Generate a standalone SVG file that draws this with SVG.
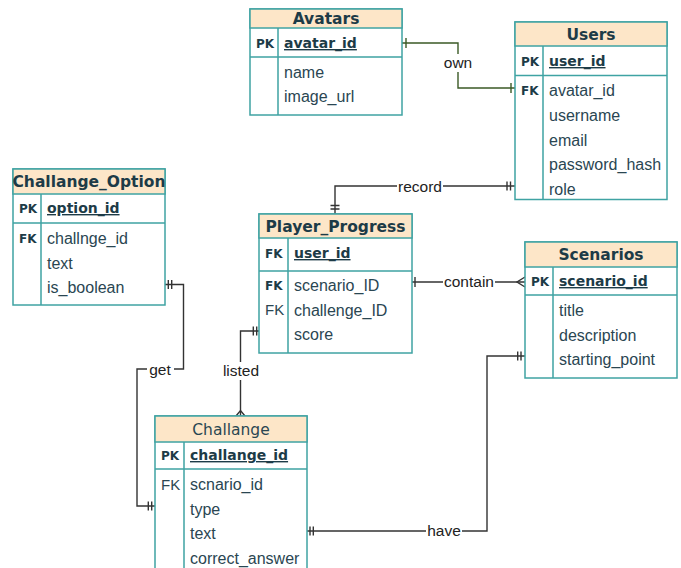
<svg xmlns="http://www.w3.org/2000/svg" width="681" height="568" viewBox="0 0 681 568">
<style>
.box{fill:#ffffff;stroke:#3fa3a3;stroke-width:1.5}
.hdr{fill:#fde6c8;stroke:#3fa3a3;stroke-width:1.5}
.ln{stroke:#3fa3a3;stroke-width:1.5;fill:none}
.title{font-family:"DejaVu Sans",Verdana,sans-serif;font-weight:bold;font-size:15.5px;fill:#1d3b47;text-anchor:middle}
.titlen{font-family:"DejaVu Sans",Verdana,sans-serif;font-size:15.5px;fill:#2a4652;text-anchor:middle}
.key{font-family:"DejaVu Sans",Verdana,sans-serif;font-weight:bold;font-size:12px;fill:#1d3b47}
.keyn{font-family:"Liberation Sans",Arial,sans-serif;font-size:15px;fill:#2a4652}
.pk{font-family:"DejaVu Sans",Verdana,sans-serif;font-weight:bold;font-size:14px;fill:#1d3b47;text-decoration:underline}
.fld{font-family:"Liberation Sans",Arial,sans-serif;font-size:16px;fill:#2a4652}
.con{stroke:#333333;stroke-width:1.4;fill:none}
.own{stroke:#3b5a26;stroke-width:1.4;fill:none}
.lbl{font-family:"Liberation Sans",Arial,sans-serif;font-size:15.5px;fill:#222222;text-anchor:middle}
.bg{fill:#ffffff}
</style>
<g id="connectors">
  <!-- own -->
  <path class="own" d="M402,43 H458 V88 H515"/>
  <path class="own" d="M406,38 V48 M511,83 V93"/>
  <rect class="bg" x="440" y="54" width="36" height="18"/>
  <text class="lbl" x="458" y="68">own</text>
  <!-- record -->
  <path class="con" d="M515,186 H335 V214"/>
  <path class="con" d="M507,181.5 V190.5 M510.5,181.5 V190.5 M330.5,205.5 H339.5 M330.5,209 H339.5"/>
  <rect class="bg" x="397" y="178" width="46" height="18"/>
  <text class="lbl" x="420" y="192">record</text>
  <!-- contain -->
  <path class="con" d="M412,282 H525"/>
  <path class="con" d="M415,277 V287 M525,277 L517,282 L525,287"/>
  <rect class="bg" x="443" y="273" width="52" height="18"/>
  <text class="lbl" x="469" y="287">contain</text>
  <!-- listed -->
  <path class="con" d="M259,331 H240.5 V416"/>
  <path class="con" d="M253.3,326.5 V335.5 M256.7,326.5 V335.5 M236,416 L240.5,410.5 L245,416"/>
  <rect class="bg" x="220" y="362" width="42" height="18"/>
  <text class="lbl" x="241" y="376">listed</text>
  <!-- get -->
  <path class="con" d="M165,284.5 H183.5 V369 H137 V506 H155"/>
  <path class="con" d="M168.3,280 V289 M171.7,280 V289 M148.3,501.5 V510.5 M151.7,501.5 V510.5"/>
  <rect class="bg" x="147" y="361" width="27" height="17"/>
  <text class="lbl" x="160" y="375">get</text>
  <!-- have -->
  <path class="con" d="M307,531 H487 V356 H525"/>
  <path class="con" d="M310,526.5 V535.5 M313.3,526.5 V535.5 M517.7,351.5 V360.5 M521,351.5 V360.5"/>
  <rect class="bg" x="426" y="522" width="36" height="18"/>
  <text class="lbl" x="444" y="536">have</text>
</g>
<g id="avatars">
  <rect class="box" x="250" y="9" width="152" height="106"/>
  <rect class="hdr" x="250" y="9" width="152" height="19"/>
  <path class="ln" d="M250,57 H402 M278,28 V115"/>
  <text class="title" x="326" y="24">Avatars</text>
  <text class="key" x="256" y="48">PK</text>
  <text class="pk" x="284" y="48">avatar_id</text>
  <text class="fld" x="284" y="77.5">name</text>
  <text class="fld" x="284" y="101.5">image_url</text>
</g>
<g id="users">
  <rect class="box" x="515" y="22" width="152" height="177.5"/>
  <rect class="hdr" x="515" y="22" width="152" height="24"/>
  <path class="ln" d="M515,75.5 H667 M543,46 V199.5"/>
  <text class="title" x="591" y="39.5">Users</text>
  <text class="key" x="521" y="66">PK</text>
  <text class="pk" x="549" y="66">user_id</text>
  <text class="key" x="521" y="95">FK</text>
  <text class="fld" x="549" y="96">avatar_id</text>
  <text class="fld" x="549" y="121">username</text>
  <text class="fld" x="549" y="146">email</text>
  <text class="fld" x="549" y="170">password_hash</text>
  <text class="fld" x="549" y="195">role</text>
</g>
<g id="challange_option">
  <rect class="box" x="13" y="169" width="152" height="136"/>
  <rect class="hdr" x="13" y="169" width="152" height="25"/>
  <path class="ln" d="M13,223 H165 M41,194 V305"/>
  <text class="title" x="89" y="187">Challange_Option</text>
  <text class="key" x="19" y="213">PK</text>
  <text class="pk" x="47" y="213">option_id</text>
  <text class="key" x="19" y="243">FK</text>
  <text class="fld" x="47" y="244">challnge_id</text>
  <text class="fld" x="47" y="269">text</text>
  <text class="fld" x="47" y="293">is_boolean</text>
</g>
<g id="player_progress">
  <rect class="box" x="259" y="214" width="153" height="139"/>
  <rect class="hdr" x="259" y="214" width="153" height="24"/>
  <path class="ln" d="M259,271 H412 M288,238 V353"/>
  <text class="title" x="335.5" y="231.5">Player_Progress</text>
  <text class="key" x="265" y="258">FK</text>
  <text class="pk" x="294" y="258">user_id</text>
  <text class="key" x="265" y="290">FK</text>
  <text class="fld" x="294" y="291">scenario_ID</text>
  <text class="keyn" x="265" y="315">FK</text>
  <text class="fld" x="294" y="316">challenge_ID</text>
  <text class="fld" x="294" y="340">score</text>
</g>
<g id="scenarios">
  <rect class="box" x="525" y="242" width="152" height="136"/>
  <rect class="hdr" x="525" y="242" width="152" height="25"/>
  <path class="ln" d="M525,295 H677 M553,267 V378"/>
  <text class="title" x="601" y="260">Scenarios</text>
  <text class="key" x="531" y="286">PK</text>
  <text class="pk" x="559" y="286">scenario_id</text>
  <text class="fld" x="559" y="316">title</text>
  <text class="fld" x="559" y="341">description</text>
  <text class="fld" x="559" y="365">starting_point</text>
</g>
<g id="challange">
  <rect class="box" x="155" y="416" width="152" height="160"/>
  <rect class="hdr" x="155" y="416" width="152" height="26"/>
  <path class="ln" d="M155,469 H307 M184,442 V576"/>
  <text class="titlen" x="231" y="434.5">Challange</text>
  <text class="key" x="161" y="460">PK</text>
  <text class="pk" x="190" y="460">challange_id</text>
  <text class="keyn" x="161" y="489.5">FK</text>
  <text class="fld" x="190" y="490">scnario_id</text>
  <text class="fld" x="190" y="515">type</text>
  <text class="fld" x="190" y="539">text</text>
  <text class="fld" x="190" y="564">correct_answer</text>
</g>
</svg>
